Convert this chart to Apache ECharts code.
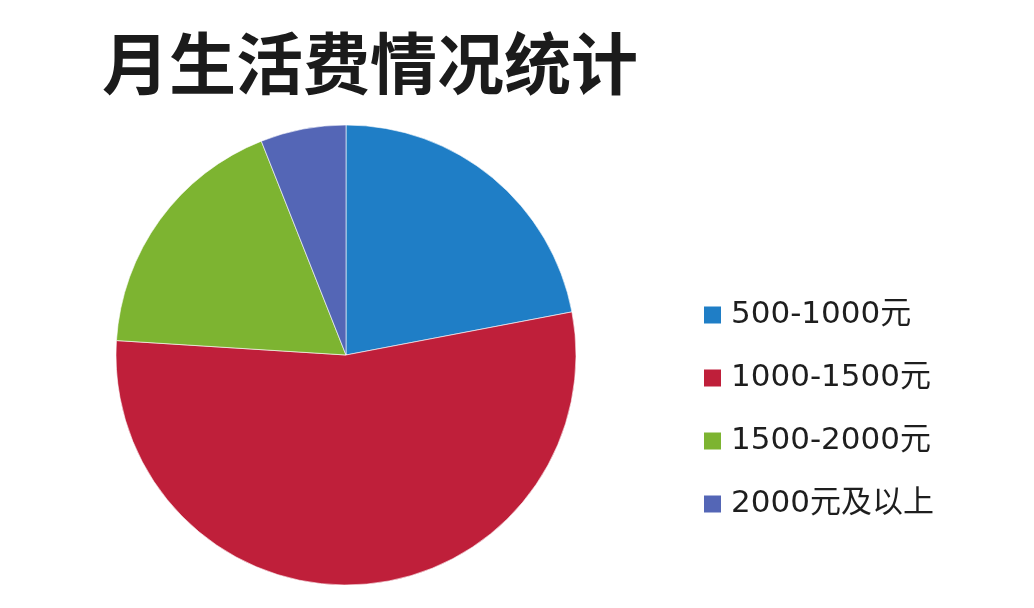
<!DOCTYPE html>
<html>
<head>
<meta charset="utf-8">
<script src="https://cdn.jsdelivr.net/npm/echarts@6/dist/echarts.min.js"></script>
<style>
  html, body { margin: 0; padding: 0; background: #fff; }
  #main { width: 1034px; height: 608px; }
</style>
</head>
<body>
<div id="main"></div>
<script>
var categories = ['500-1000元', '1000-1500元', '1500-2000元', '2000元及以上'];
var shares = [22, 54, 18, 6];
var colors = ['#1f7ec6', '#bf1f3a', '#7db431', '#5466b6'];

var chart = echarts.init(document.getElementById('main'));
chart.setOption({
    backgroundColor: '#fff',
    animation: false,
    color: colors,
    title: {
        text: '月生活费情况统计',
        left: 97,
        top: 25,
        textStyle: {
            fontFamily: 'Noto Sans CJK SC',
            fontSize: 67,
            fontWeight: 'bold',
            color: '#1b1b1b'
        }
    },
    legend: {
        orient: 'vertical',
        left: 697,
        top: 294,
        itemWidth: 19,
        itemHeight: 19,
        itemGap: 31,
        icon: 'rect',
        data: categories,
        textStyle: {
            fontFamily: 'DejaVu Sans, Noto Sans CJK SC',
            fontSize: 31,
            lineHeight: 32,
            color: '#1e1e1e',
            padding: [0, 0, 0, 4]
        }
    },
    series: [{
        type: 'pie',
        center: [346, 355],
        radius: 230,
        startAngle: 90,
        clockwise: true,
        label: { show: false },
        labelLine: { show: false },
        itemStyle: { borderColor: '#fff', borderWidth: 0.6 },
        data: categories.map(function (c, i) {
            return { name: c, value: shares[i] };
        })
    }]
});
</script>
</body>
</html>
